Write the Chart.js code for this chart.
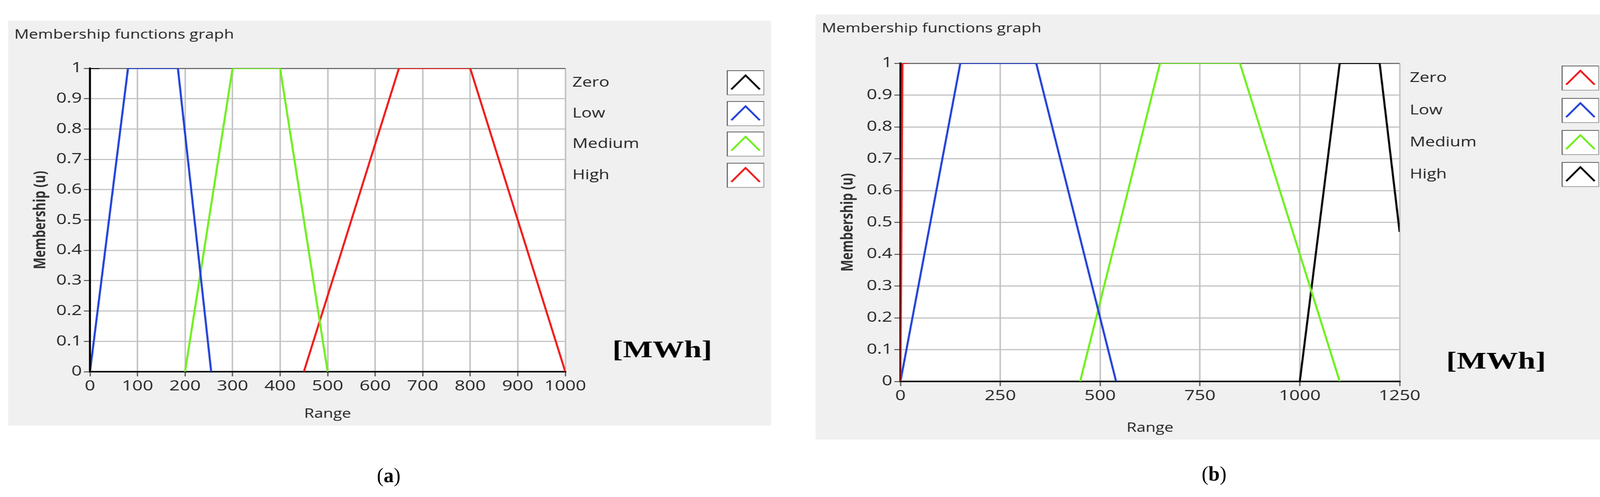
<!DOCTYPE html>
<html><head><meta charset="utf-8">
<script src="https://cdn.jsdelivr.net/npm/chart.js@4"></script>
<style>
html,body{margin:0;padding:0;overflow:hidden}
body{width:4138px;height:1273px;background:#fff;position:relative;font-family:"Liberation Serif",serif}
.wrap{position:absolute;transform-origin:0 0;transform:scaleX(1.3)}
.cap{position:absolute;font-size:52px;transform:translateX(-50%)}
</style></head><body>
<div class="wrap" id="wa" style="left:21px;top:53px"><canvas id="ca"></canvas></div>
<div class="wrap" id="wb" style="left:2088px;top:37px"><canvas id="cb"></canvas></div>
<div class="cap" style="left:995px;top:1188px">(<b>a</b>)</div>
<div class="cap" style="left:3108px;top:1184px">(<b>b</b>)</div>
<script>
// Panel (a)
const seriesNames = ["Zero","Low","Medium","High"];
const aZeroX=[0,0,20], aZeroY=[0,1,1];
const aLowX=[0,80,185,255], aLowY=[0,1,1,0];
const aMedX=[200,300,400,500], aMedY=[0,1,1,0];
const aHighX=[450,650,800,1000], aHighY=[0,1,1,0];
const aColors=["#000000","#1f3fd6","#6cf01a","#f01818"];
const aXTicks=[0,100,200,300,400,500,600,700,800,900,1000];
// Panel (b)
const bZeroX=[0,5,20], bZeroY=[0,1,1];
const bLowX=[0,150,340,540], bLowY=[0,1,1,0];
const bMedX=[450,650,850,1100], bMedY=[0,1,1,0];
const bHighX=[1000,1100,1200,1250], bHighY=[0,1,1,0.47];
const bColors=["#f01818","#1f3fd6","#6cf01a","#000000"];
const bXTicks=[0,250,500,750,1000,1250];
const yTicks=[0,0.1,0.2,0.3,0.4,0.5,0.6,0.7,0.8,0.9,1];

const pts=(xs,ys)=>xs.map((x,i)=>({x,y:ys[i]}));
const TF='"Open Sans", sans-serif';

function make(id,W,H,cfg){
  const c=document.getElementById(id);
  c.width=W;c.height=H;c.style.width=W+'px';c.style.height=H+'px';
  const deco={id:'deco',
    beforeDraw(ch){const g=ch.ctx,a=ch.chartArea;g.save();g.fillStyle='#f0f0f0';g.fillRect(0,0,W,H);
      g.fillStyle='#fff';g.fillRect(a.left,a.top,a.right-a.left,a.bottom-a.top);g.restore();},
    afterDraw(ch){const g=ch.ctx;g.save();
      g.fillStyle='#222';g.font='32px '+TF;g.textBaseline='middle';g.textAlign='left';
      g.fillText('Membership functions graph',12,cfg.titleY);
      seriesNames.forEach((n,i)=>{const y=cfg.rows[i];
        g.fillStyle='#222';g.font='34px '+TF;g.fillText(n,cfg.legX,y);
        const sx=cfg.swX,sw=72,sh=62,sy=y-sh/2;
        g.fillStyle='#fff';g.fillRect(sx,sy,sw,sh);
        g.strokeStyle='#a0a0a0';g.lineWidth=2;g.strokeRect(sx,sy,sw,sh);
        g.strokeStyle='#606060';g.beginPath();g.moveTo(sx,sy+sh);g.lineTo(sx,sy);g.lineTo(sx+sw,sy);g.stroke();
        g.strokeStyle=cfg.colors[i];g.lineWidth=4;g.beginPath();
        g.moveTo(sx+8,sy+sh-14);g.lineTo(sx+sw/2,sy+12);g.lineTo(sx+sw-8,sy+sh-14);g.stroke();});
      g.fillStyle='#000';g.font='bold 62px "Liberation Serif", serif';g.textAlign='center';
      g.fillText('[MWh]',cfg.mwhX,cfg.mwhY);
      g.restore();}};
  new Chart(c,{type:'line',
    data:{datasets:cfg.data.map((d,i)=>({label:seriesNames[i],data:d,borderColor:cfg.colors[i],borderWidth:4,pointRadius:0,fill:false,tension:0}))},
    options:{responsive:false,animation:false,devicePixelRatio:1,
      layout:{padding:{left:0,top:cfg.top,right:cfg.right,bottom:0}},
      plugins:{legend:{display:false},tooltip:{enabled:false}},
      scales:{
        x:{type:'linear',min:0,max:cfg.xmax,afterFit:s=>{s.height=cfg.xh},
          afterBuildTicks:s=>{s.ticks=cfg.xt.map(v=>({value:v}))},
          grid:{color:'#c4c4c4',lineWidth:3,tickLength:12,tickColor:'#333',tickWidth:2},
          border:{color:'#000',width:4},
          ticks:{color:'#222',font:{size:36,family:TF},padding:4,maxRotation:0,callback:v=>String(v)},
          title:{display:true,text:'Range',color:'#222',font:{size:32,family:TF},padding:{top:0,bottom:10}}},
        y:{min:0,max:1,afterFit:s=>{s.width=cfg.yw},
          afterBuildTicks:s=>{s.ticks=yTicks.map(v=>({value:v}))},
          grid:{color:c=>c.tick&&c.tick.value===1?'#707070':'#c4c4c4',lineWidth:3,tickLength:12,tickColor:'#333',tickWidth:2},
          border:{color:'#000',width:4},
          ticks:{color:'#222',font:{size:36,family:TF},padding:4,callback:v=>String(+v.toFixed(1))},
          title:{display:true,text:'Membership (u)',color:'#333',font:{size:32,family:TF,weight:'bold'},padding:{top:45,bottom:0}}}
      }},
    plugins:[deco]});
}
make('ca',1502,1037,{top:122,right:405,yw:161,xh:138,xmax:1000,xt:aXTicks,colors:aColors,
  data:[pts(aZeroX,aZeroY),pts(aLowX,aLowY),pts(aMedX,aMedY),pts(aHighX,aHighY)],
  titleY:37,legX:1111,swX:1416,rows:[159,238,316,396],mwhX:1288,mwhY:846});
make('cb',1550,1089,{top:125,right:400,yw:167,xh:149,xmax:1250,xt:bXTicks,colors:bColors,
  data:[pts(bZeroX,bZeroY),pts(bLowX,bLowY),pts(bMedX,bMedY),pts(bHighX,bHighY)],
  titleY:37,legX:1170,swX:1470,rows:[163,246,328,410],mwhX:1340,mwhY:891});
</script></body></html>
